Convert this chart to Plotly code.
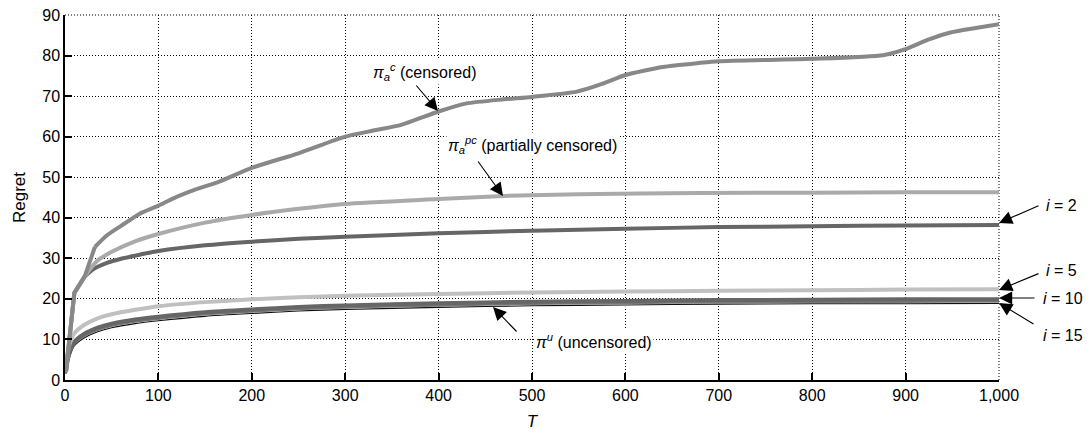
import plotly.graph_objects as go

# ---- data ----
T_c = [1, 10, 21, 32, 45, 60, 80, 100, 116, 140, 166, 200, 250, 300, 330, 360, 400, 430,
       470, 500, 548, 575, 600, 640, 680, 700, 800, 876, 899, 925, 948, 975, 1000]
censored = [2, 21.5, 25.5, 32.8, 35.7, 38, 41, 43, 44.8, 47, 49, 52.3, 55.9, 60, 61.5, 62.9,
            66.2, 68.2, 69.2, 69.8, 71.1, 73, 75.2, 77.2, 78.2, 78.6, 79.2, 80.1, 81.5, 84,
            85.7, 86.8, 87.7]

T_pc = [1, 10, 21, 34, 50, 75, 100, 150, 200, 250, 300, 400, 470, 550, 680, 800, 900, 1000]
partially = [2, 21.5, 25.5, 29.3, 31.6, 34.2, 36.0, 38.8, 40.7, 42.2, 43.4, 44.6, 45.4, 45.8,
             46.1, 46.2, 46.3, 46.3]

T_i2 = [1, 10, 21, 30, 45, 60, 80, 100, 150, 200, 250, 300, 400, 500, 600, 700, 800, 900, 1000]
i2 = [2, 21.5, 25.5, 27.3, 28.9, 29.9, 30.9, 31.8, 33.2, 34.1, 34.8, 35.3, 36.2, 36.8, 37.3,
      37.7, 37.9, 38.1, 38.2]

T_s = [1, 3, 5, 10, 20, 35, 50, 75, 100, 150, 200, 250, 300, 400, 500, 600, 700, 800, 900, 1000]
i5 = [3, 7, 9, 11.5, 13.5, 15.2, 16.2, 17.3, 18.2, 19.2, 19.9, 20.4, 20.8, 21.2, 21.6, 21.8,
      22.0, 22.1, 22.3, 22.4]
i10 = [2, 5, 6.8, 9.4, 11.3, 12.9, 13.9, 14.9, 15.6, 16.7, 17.4, 18.0, 18.4, 18.9, 19.3, 19.5,
       19.7, 19.8, 19.9, 19.9]
i15 = [1.8, 4.5, 6.3, 8.9, 10.8, 12.4, 13.4, 14.4, 15.1, 16.2, 16.9, 17.5, 17.9, 18.4, 18.8,
       19.0, 19.2, 19.3, 19.3, 19.4]
uncens = [1.5, 4.0, 5.8, 8.4, 10.3, 11.9, 12.9, 13.9, 14.6, 15.7, 16.4, 17.0, 17.4, 17.9,
          18.3, 18.5, 18.7, 18.8, 18.8, 18.9]

x_ticks = [0, 100, 200, 300, 400, 500, 600, 700, 800, 900, 1000]
x_tick_labels = ["0", "100", "200", "300", "400", "500", "600", "700", "800", "900", "1,000"]
y_ticks = list(range(0, 91, 10))

FONT = "Liberation Sans, Arial, sans-serif"

fig = go.Figure()


def add(x, y, color, width, shape="spline"):
    fig.add_trace(go.Scatter(x=x, y=y, mode="lines",
                             line=dict(color=color, width=width, shape=shape, smoothing=0.6),
                             showlegend=False, hoverinfo="skip"))


def add_kinked(x, y, color, width, k):
    # sharp early segments (linear) followed by a smooth tail
    add(x[:k + 1], y[:k + 1], color, width, shape="linear")
    add(x[k:], y[k:], color, width, shape="spline")


add(T_s, uncens, "#ffffff", 3.5)
add(T_s, uncens, "#111111", 1.1)
add(T_s, i15, "#777777", 2.5)
add(T_s, i10, "#666666", 4)
add(T_s, i5, "#c0c0c0", 4)
add_kinked(T_i2, i2, "#666666", 4, 2)
add_kinked(T_pc, partially, "#aaaaaa", 4, 2)
add_kinked(T_c, censored, "#888888", 4, 3)

# ---- annotations ----
ann = []

# page has an 8px body margin; target plot area (page px): left 65, right 999, top 15, bottom 380
OFF = 8
W, H = 1092 - OFF, 433 - OFF
L, R, TOP, BOT = 65, 999, 15, 380


def px2paper(px, py):
    return (px - L) / (R - L), (BOT - py) / (BOT - TOP)


def val(px, py):
    return min(1000.0, (px - L) / (R - L) * 1000), (BOT - py) / (BOT - TOP) * 90


def text(pos, s):
    xp, yp = px2paper(*pos)
    ann.append(dict(xref="paper", yref="paper", x=xp, y=yp, text=s, showarrow=False,
                    bgcolor="white", font=dict(size=16, family=FONT, color="black"),
                    xanchor="center", yanchor="middle", borderpad=1))


def add_arrow(tail, tip):
    tx, ty = val(*tip)
    tipx = L + tx / 1000 * (R - L)
    ann.append(dict(x=tx, y=ty, xref="x", yref="y", text="", showarrow=True,
                    ax=tail[0] - tipx, ay=tail[1] - tip[1], axref="pixel", ayref="pixel",
                    arrowhead=2, arrowsize=2.4, arrowwidth=1.1, arrowcolor="black"))


labels = [
    ((424, 72), "<i>π</i><sub><i>a</i></sub><sup><i>c</i></sup> (censored)", (415, 84), (438, 111)),
    ((532, 145), "<i>π</i><sub><i>a</i></sub><sup><i>pc</i></sup> (partially censored)", (477, 160), (503, 196)),
    ((594, 341), "<i>π</i><sup><i>u</i></sup> (uncensored)", (518, 333), (493, 307)),
    ((1061, 206), "<i>i</i> = 2", (1040, 205), (1000, 223)),
    ((1061, 270), "<i>i</i> = 5", (1040, 273), (1000, 290)),
    ((1063, 298), "<i>i</i> = 10", (1036, 298), (1000, 298)),
    ((1063, 335), "<i>i</i> = 15", (1035, 325), (1000, 303)),
]
for pos, s, tail, tip in labels:
    text(pos, s)
    add_arrow(tail, tip)

# dotted top and right borders (grid lines at the range ends)
border = dict(color="black", width=1, dash="1px,2px")
shapes = [
    dict(type="line", xref="paper", yref="paper", x0=0, x1=1, y0=1, y1=1, line=border, layer="below"),
    dict(type="line", xref="paper", yref="paper", x0=1, x1=1, y0=0, y1=1, line=border, layer="below"),
]

fig.update_layout(
    width=W, height=H,
    margin=dict(l=L - OFF, r=W - (R - OFF), t=TOP - OFF, b=H - (BOT - OFF), autoexpand=False),
    paper_bgcolor="white", plot_bgcolor="white",
    font=dict(family=FONT, size=16, color="black"),
    annotations=ann,
    shapes=shapes,
    xaxis=dict(range=[0, 1000], tickvals=x_ticks, ticktext=x_tick_labels, automargin=False,
               showgrid=True, gridcolor="black", griddash="1px,2px", gridwidth=1,
               zeroline=False, showline=True, linecolor="black", linewidth=1.5,
               ticks="inside", ticklen=7, tickcolor="black", tickwidth=1.5,
               tickfont=dict(size=16), ticklabeloverflow="allow",
               title=dict(text="<i>T</i>", font=dict(size=17), standoff=12)),
    yaxis=dict(range=[0, 90], tickvals=y_ticks, automargin=False,
               showgrid=True, gridcolor="black", griddash="1px,2px", gridwidth=1,
               zeroline=False, showline=True, linecolor="black", linewidth=1.5,
               ticks="inside", ticklen=7, tickcolor="black", tickwidth=1.5,
               tickfont=dict(size=16), ticklabeloverflow="allow",
               title=dict(text="Regret", font=dict(size=17), standoff=12)),
)

fig.write_html("out.html")
